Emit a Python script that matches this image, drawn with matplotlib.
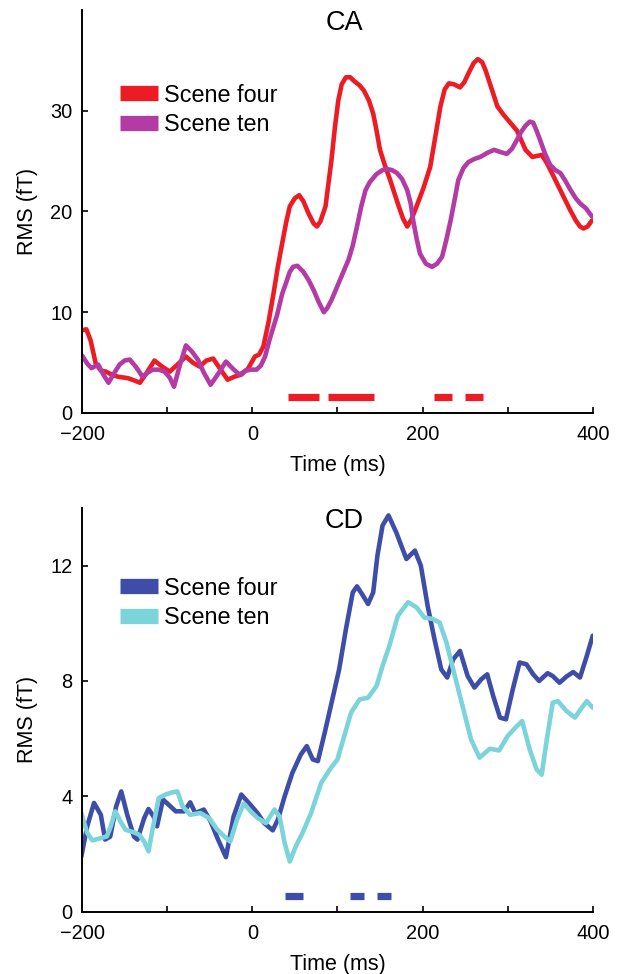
import matplotlib
matplotlib.use("Agg")
import matplotlib.pyplot as plt
from matplotlib.lines import Line2D

plt.rcParams['font.family'] = ['Liberation Sans', 'DejaVu Sans']

# CA panel
ca_four_t = [-200, -195, -190, -184, -178, -172, -165, -158, -146, -138, -132, -124, -115, -106, -97, -88,
             -78, -70, -62, -54, -46, -38, -29, -21, -13, -5, 3, 8, 13, 19, 25, 30, 35, 40, 44, 50, 55, 60,
             66, 72, 76, 80, 86, 93, 97, 101, 105, 110, 115, 120, 126, 131, 137, 142, 146, 150, 156, 162,
             167, 172, 177, 182, 187, 193, 201, 209, 215, 221, 226, 231, 237, 244, 249, 254, 260, 265, 270,
             274, 281, 288, 295, 301, 311, 321, 329, 335, 340, 346, 352, 359, 366, 373, 380, 385, 389, 394, 399]
ca_four_v = [8.2, 8.3, 7.2, 4.9, 4.2, 4.1, 3.8, 3.6, 3.45, 3.2, 3.0, 4.0, 5.2, 4.6, 4.1, 4.8,
             5.6, 5.0, 4.6, 5.2, 5.4, 4.4, 3.3, 3.6, 3.8, 4.4, 5.6, 5.8, 6.6, 9.0, 11.9, 14.5, 16.8, 19.0, 20.5, 21.3, 21.6, 21.0,
             19.8, 18.8, 18.5, 19.0, 20.5, 25.1, 28.3, 31.0, 32.6, 33.3, 33.3, 32.9, 32.5, 32.0, 31.0, 29.7, 28.0, 26.1, 24.5, 23.1,
             21.8, 20.5, 19.3, 18.5, 19.2, 20.5, 22.3, 24.4, 27.4, 30.4, 32.1, 32.7, 32.6, 32.3, 32.8, 33.7, 34.7, 35.1, 34.8,
             34.0, 32.2, 30.4, 29.6, 29.0, 28.0, 26.1, 25.4, 25.5, 25.6, 24.8, 23.8, 22.6, 21.4, 20.2, 19.1, 18.5, 18.3, 18.5, 19.1]

ca_ten_t = [-200, -194, -189, -181, -175, -169, -162, -156, -150, -144, -137, -129, -123, -117, -110, -103,
            -97, -92, -85, -78, -71, -64, -57, -49, -40, -31, -23, -15, -8, -1, 5, 10, 15, 20, 29, 35, 40,
            44, 48, 53, 60, 66, 72, 78, 84, 88, 93, 98, 103, 108, 113, 118, 123, 128, 133, 138, 146, 153,
            158, 164, 170, 176, 182, 186, 189, 193, 197, 204, 211, 217, 223, 228, 233, 238, 242, 248, 254,
            261, 268, 276, 284, 291, 299, 305, 311, 316, 321, 326, 330, 334, 338, 344, 350, 356, 362, 368,
            374, 380, 385, 392, 399]
ca_ten_v = [5.7, 4.9, 4.45, 4.8, 3.8, 3.0, 4.0, 4.8, 5.2, 5.3, 4.6, 3.6, 4.0, 4.3, 4.3, 4.1,
            3.5, 2.6, 4.8, 6.7, 6.1, 5.3, 4.0, 2.8, 3.9, 5.1, 4.4, 3.8, 4.2, 4.3, 4.3, 4.7, 5.6, 7.2, 9.7, 11.8, 13.0,
            14.0, 14.5, 14.6, 14.0, 13.2, 12.2, 11.0, 10.0, 10.4, 11.2, 12.2, 13.2, 14.2, 15.2, 16.6, 18.5, 20.5, 22.1, 22.9, 23.7, 24.1,
            24.2, 24.1, 23.8, 23.2, 22.1, 20.8, 19.1, 17.3, 15.8, 14.8, 14.5, 14.8, 15.5, 17.2, 19.1, 21.3, 23.1, 24.3, 24.9,
            25.2, 25.4, 25.8, 26.1, 25.9, 25.7, 26.2, 27.1, 27.9, 28.5, 28.9, 28.8, 28.0, 27.1, 25.7, 24.6, 24.1, 23.8, 23.0,
            22.1, 21.3, 20.8, 20.3, 19.5]

ca_sig = [(42, 78), (89, 143), (214, 235), (250, 271)]

# CD panel
cd_four_t = [-201, -194, -186, -178, -173, -167, -160, -154, -147, -139, -135, -127, -122, -116, -112,
             -105, -98, -90, -80, -73, -67, -57, -49, -41, -31, -22, -13, -2, 6, 14, 24, 30, 38, 47,
             57, 64, 71, 77, 85, 94, 102, 110, 118, 123, 130, 136, 142, 147, 153, 160, 169, 181, 191,
             198, 206, 214, 222, 229, 236, 244, 253, 261, 269, 276, 283, 291, 298, 306, 314, 322, 330,
             337, 347, 353, 361, 369, 377, 385, 393, 400]
cd_four_v = [1.9, 2.96, 3.77, 3.36, 2.5, 2.6, 3.65, 4.17, 3.36, 2.6, 2.5, 3.25, 3.56, 3.3, 2.96,
             3.89, 3.7, 3.48, 3.48, 3.79, 3.42, 3.54, 3.13, 2.55, 1.89, 3.3, 4.06, 3.7, 3.42, 3.07, 2.82, 3.19, 4.0, 4.81,
             5.45, 5.74, 5.28, 5.22, 6.2, 7.36, 8.4, 9.8, 11.07, 11.28, 10.96, 10.67, 11.07, 12.35, 13.39, 13.74, 13.16, 12.23, 12.52,
             12.0, 10.6, 9.45, 8.4, 8.12, 8.75, 9.04, 8.17, 7.77, 8.06, 8.23, 7.48, 6.73, 6.67, 7.71, 8.64, 8.58, 8.23,
             8.0, 8.27, 8.17, 7.94, 8.15, 8.31, 8.12, 8.87, 9.57]

cd_ten_t = [-201, -194, -188, -178, -171, -167, -161, -155, -149, -139, -133, -127, -122, -118, -110,
            -102, -94, -88, -82, -73, -61, -51, -41, -33, -26, -18, -10, -2, 6, 16, 26, 32, 38, 44,
            51, 59, 69, 81, 91, 100, 108, 116, 126, 136, 146, 153, 161, 171, 183, 193, 202, 212, 220,
            228, 238, 247, 257, 267, 279, 290, 300, 310, 317, 326, 334, 340, 346, 353, 359, 369, 379,
            387, 393, 400]
cd_ten_v = [3.42, 2.73, 2.47, 2.55, 2.61, 2.9, 3.48, 3.13, 2.84, 2.75, 2.67, 2.43, 2.09, 2.73, 3.94,
            4.06, 4.14, 4.17, 3.65, 3.36, 3.42, 3.25, 2.84, 2.61, 2.43, 3.19, 3.75, 3.48, 3.25, 3.07, 3.54, 3.3, 2.38, 1.74,
            2.26, 2.73, 3.42, 4.47, 4.93, 5.28, 6.09, 6.9, 7.36, 7.42, 7.83, 8.52, 9.22, 10.26, 10.73, 10.55, 10.2, 10.15, 10.03,
            9.34, 8.17, 7.13, 5.97, 5.34, 5.65, 5.59, 6.09, 6.41, 6.61, 5.62, 4.93, 4.75, 5.97, 7.25, 7.3, 6.96, 6.73,
            7.07, 7.3, 7.07]

cd_sig = [(38, 59), (115, 131), (146, 163)]

labels = ['Scene four', 'Scene ten']

fig = plt.figure(figsize=(6.22, 9.74), dpi=100)
ax1 = fig.add_axes([0.132, 0.576, 0.821, 0.414])
ax2 = fig.add_axes([0.132, 0.064, 0.821, 0.4145])


def style(ax, ymax, yticks, title, c1, c2, leg_y, ylab_y):
    ax.set_xlim(-200, 400)
    ax.set_ylim(0, ymax)
    ax.set_xticks(range(-200, 401, 100))
    ax.set_xticklabels(['\u2212200', '', '0', '', '200', '', '400'])
    ax.set_yticks(yticks)
    for s in ['top', 'right']:
        ax.spines[s].set_visible(False)
    for s in ['left', 'bottom']:
        ax.spines[s].set_linewidth(1.4)
    ax.tick_params(direction='in', length=4, width=1.2, labelsize=14.4)
    ax.tick_params(axis='x', pad=9)
    ax.tick_params(axis='y', pad=7)
    ax.set_xlabel('Time (ms)', fontsize=15.5)
    ax.set_ylabel('RMS (fT)', fontsize=15.5)
    ax.xaxis.set_label_coords(0.5, -0.105)
    ax.yaxis.set_label_coords(-0.087, ylab_y)
    ax.text(0.513, 1.0, title, transform=ax.transAxes, ha='center', va='top', fontsize=19.5)
    handles = [Line2D([], [], color=c1, lw=11, solid_capstyle='butt'),
               Line2D([], [], color=c2, lw=11, solid_capstyle='butt')]
    ax.legend(handles, labels, loc='upper left', bbox_to_anchor=(0.074, leg_y), frameon=False,
              fontsize=16.8, handlelength=1.63, handletextpad=0.27, labelspacing=0.28,
              borderpad=0, borderaxespad=0)


red, purple = '#ED1C24', '#B43AA5'
blue, cyan = '#3E4EA8', '#7CD4DB'

ax1.plot(ca_four_t, ca_four_v, color=red, lw=3.3, solid_joinstyle='round', solid_capstyle='round')
ax1.plot(ca_ten_t, ca_ten_v, color=purple, lw=3.3, solid_joinstyle='round', solid_capstyle='round')
for a, b in ca_sig:
    ax1.hlines(1.6, a, b, color=red, lw=5.2)
style(ax1, 40, [0, 10, 20, 30], 'CA', red, purple, 0.817, 0.5)

ax2.plot(cd_four_t, cd_four_v, color=blue, lw=3.3, solid_joinstyle='round', solid_capstyle='round')
ax2.plot(cd_ten_t, cd_ten_v, color=cyan, lw=3.3, solid_joinstyle='round', solid_capstyle='round')
for a, b in cd_sig:
    ax2.hlines(0.55, a, b, color=blue, lw=5.2)
style(ax2, 14, [0, 4, 8, 12], 'CD', blue, cyan, 0.83, 0.475)

fig.savefig('out.png', dpi=100)
